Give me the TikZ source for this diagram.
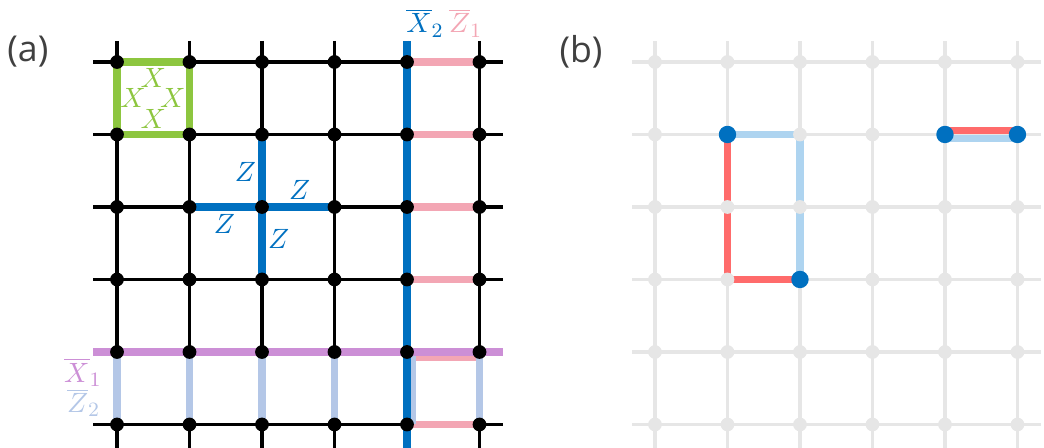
\documentclass[tikz,border=0pt]{standalone}
\usepackage{fontspec}
\setsansfont{Open Sans}
\usepackage{xcolor}
\usepackage{tikz}

\definecolor{plaqgreen}{RGB}{141,198,63}
\definecolor{zblue}{RGB}{0,112,192}
\definecolor{zpink}{RGB}{243,166,180}
\definecolor{xpurple}{RGB}{204,143,214}
\definecolor{zlight}{RGB}{180,199,231}
\definecolor{errred}{RGB}{255,107,107}
\definecolor{errblue}{RGB}{174,212,240}
\definecolor{latgray}{RGB}{230,230,230}
\definecolor{labgray}{RGB}{64,64,64}

\begin{document}
\begin{tikzpicture}[gridline/.style={line width=1.3pt},
                    faint/.style={line width=1.3pt,latgray},
                    thick line/.style={line width=3.1pt},
                    errline/.style={line width=2.9pt},
                    mathlab/.style={font=\fontsize{10.8}{13}\selectfont,inner sep=0pt},
                    panel/.style={font=\sffamily\fontsize{14}{16}\selectfont,text=labgray,inner sep=0pt}]
\useasboundingbox (-1.614,0.855) rectangle (12.786,-5.324);
\foreach \i in {0,...,5}
  \foreach \j in {0,...,5} {
    \coordinate (a\i\j) at (\i,-\j);
    \coordinate (b\i\j) at (7.42+\i,-\j);
  }

% (a)
\node[panel] (pa) at (-1.23,0.15) {(a)};
\foreach \k in {0,...,5} {
  \draw[gridline] (-0.33,-\k) -- (5.33,-\k);
  \draw[gridline] (\k,0.29) -- (\k,-5.4);
}
\draw[thick line,plaqgreen] (a00) -- (a10) -- (a11) -- (a01) -- cycle;
\foreach \j in {0,1,2,3,5}
  \draw[thick line,zpink] (a4\j) -- (a5\j);
\draw[thick line,zpink] ([yshift=-0.07cm]a44) -- ([yshift=-0.07cm]a54);
\foreach \i in {0,1,2,3,5}
  \draw[thick line,zlight] (a\i4) -- (a\i5);
\draw[thick line,zlight] ([xshift=0.07cm]a44) -- ([xshift=0.07cm]a45);
\draw[thick line,xpurple] (-0.33,-4) -- (5.33,-4);
\draw[thick line,zblue] (4,0.29) -- (4,-5.4);
\draw[thick line,zblue] (a12) -- (a32) (a21) -- (a23);
\foreach \i in {0,...,5}
  \foreach \j in {0,...,5}
    \fill (a\i\j) circle (0.095);

\node[mathlab,plaqgreen] (xt) at (0.5,-0.22) {$X$};
\node[mathlab,plaqgreen] (xl) at (0.22,-0.5) {$X$};
\node[mathlab,plaqgreen] (xr) at (0.77,-0.5) {$X$};
\node[mathlab,plaqgreen] (xb) at (0.5,-0.78) {$X$};
\node[mathlab,zblue] (z1) at (1.77,-1.52) {$Z$};
\node[mathlab,zblue] (z2) at (2.52,-1.77) {$Z$};
\node[mathlab,zblue] (z3) at (1.48,-2.23) {$Z$};
\node[mathlab,zblue] (z4) at (2.23,-2.44) {$Z$};
\node[mathlab,zblue] (lx2) at (4.25,0.54) {$\overline{X}_2$};
\node[mathlab,zpink] (lz1) at (4.81,0.54) {$\overline{Z}_1$};
\node[mathlab,xpurple] (lx1) at (-0.47,-4.28) {$\overline{X}_1$};
\node[mathlab,zlight] (lz2) at (-0.46,-4.70) {$\overline{Z}_2$};

% (b)
\node[panel] (pb) at (6.40,0.14) {(b)};
\foreach \k in {0,...,5} {
  \draw[faint] (7.10,-\k) -- (12.74,-\k);
  \draw[faint] (7.42+\k,0.29) -- (7.42+\k,-5.4);
}
\draw[errline,errred] (b11) -- (b13) -- (b23);
\draw[errline,errblue] (b11) -- (b21) -- (b23);
\draw[errline,errred] ([yshift=0.055cm]b41) -- ([yshift=0.055cm]b51);
\draw[errline,errblue] ([yshift=-0.055cm]b41) -- ([yshift=-0.055cm]b51);
\foreach \i in {0,...,5}
  \foreach \j in {0,...,5}
    \fill[latgray] (b\i\j) circle (0.095);
\foreach \v in {b11,b23,b41,b51}
  \fill[zblue] (\v) circle (0.12);
\end{tikzpicture}
\end{document}
